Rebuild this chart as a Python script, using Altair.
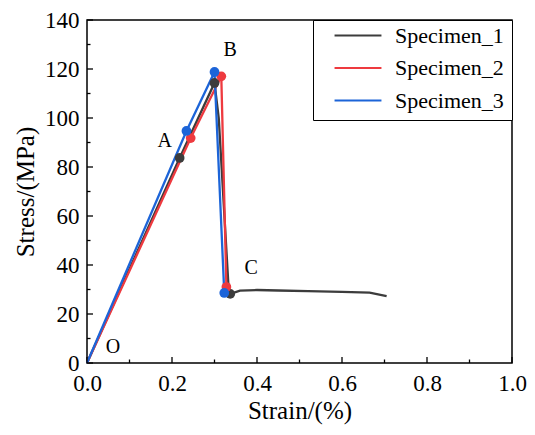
import altair as alt
import pandas as pd

series_names = ["Specimen_1", "Specimen_2", "Specimen_3"]
colors = ["#3c3c3c", "#ee3a3f", "#1c64d8"]

strain_1 = [0.0, 0.218, 0.300, 0.310, 0.333, 0.337, 0.36, 0.40, 0.45, 0.52, 0.60, 0.665, 0.705]
stress_1 = [0.0, 83.7, 114.3, 100.0, 31.0, 28.2, 29.5, 29.8, 29.6, 29.3, 29.0, 28.7, 27.3]
strain_2 = [0.0, 0.244, 0.316, 0.328]
stress_2 = [0.0, 91.8, 117.0, 31.0]
strain_3 = [0.0, 0.234, 0.300, 0.323]
stress_3 = [0.0, 94.7, 118.8, 28.6]

pts_strain_1 = [0.218, 0.300, 0.337]
pts_stress_1 = [83.7, 114.3, 28.2]
pts_strain_2 = [0.244, 0.316, 0.328]
pts_stress_2 = [91.8, 117.0, 31.0]
pts_strain_3 = [0.234, 0.300, 0.323]
pts_stress_3 = [94.7, 118.8, 28.6]

label_text = ["O", "A", "B", "C"]
label_strain = [0.061, 0.183, 0.337, 0.386]
label_stress = [6.5, 90.6, 127.8, 38.8]

x_major = [0.0, 0.2, 0.4, 0.6, 0.8, 1.0]
x_minor = [0.1, 0.3, 0.5, 0.7, 0.9]
y_major = [0, 20, 40, 60, 80, 100, 120, 140]
y_minor = [10, 30, 50, 70, 90, 110, 130]

FONT = "Liberation Serif"
W, H = 425, 343

rows = []
for name, xs, ys in zip(series_names, [strain_1, strain_2, strain_3], [stress_1, stress_2, stress_3]):
    for i, (a, b) in enumerate(zip(xs, ys)):
        rows.append({"series": name, "strain": a, "stress": b, "order": i})
lines_df = pd.DataFrame(rows)

prow = []
for name, xs, ys in zip(series_names, [pts_strain_1, pts_strain_2, pts_strain_3],
                        [pts_stress_1, pts_stress_2, pts_stress_3]):
    for a, b in zip(xs, ys):
        prow.append({"series": name, "strain": a, "stress": b})
pts_df = pd.DataFrame(prow)

labels_df = pd.DataFrame({"text": label_text, "strain": label_strain, "stress": label_stress})

xscale = alt.Scale(domain=[0, 1], nice=False)
yscale = alt.Scale(domain=[0, 140], nice=False)
cscale = alt.Scale(domain=series_names, range=colors)

x_enc = alt.X("strain:Q", scale=xscale,
              axis=alt.Axis(values=x_major, format=".1f", ticks=False, domain=False, grid=False,
                            labelFlush=False, labelPadding=9, titlePadding=3, title="Strain/(%)"))
y_enc = alt.Y("stress:Q", scale=yscale,
              axis=alt.Axis(values=y_major, format="d", ticks=False, domain=False, grid=False,
                            labelPadding=8, titlePadding=6, title="Stress/(MPa)"))

lines = alt.Chart(lines_df).mark_line(strokeWidth=2.3).encode(
    x=x_enc, y=y_enc,
    color=alt.Color("series:N", scale=cscale,
                    legend=alt.Legend(title=None, orient="top-right", offset=0,
                                      symbolType="stroke", symbolSize=2200, symbolStrokeWidth=2.2,
                                      labelFont=FONT, labelFontSize=22, labelColor="black",
                                      strokeColor="black", padding=8, symbolOffset=12,
                                      labelOffset=12, clipHeight=15, rowPadding=9.5,
                                      fillColor="white")),
    order="order:Q",
)

points = alt.Chart(pts_df).mark_circle(size=95, opacity=1).encode(
    x="strain:Q", y="stress:Q",
    color=alt.Color("series:N", scale=cscale, legend=None),
)

texts = alt.Chart(labels_df).mark_text(font=FONT, fontSize=20, color="black",
                                       align="center", baseline="middle").encode(
    x="strain:Q", y="stress:Q", text="text:N"
)

xmaj = alt.Chart(pd.DataFrame({"strain": x_major})).mark_rule(color="black", strokeWidth=1.3).encode(
    x="strain:Q", y=alt.value(H), y2=alt.value(H - 6))
xmin = alt.Chart(pd.DataFrame({"strain": x_minor})).mark_rule(color="black", strokeWidth=1.3).encode(
    x="strain:Q", y=alt.value(H), y2=alt.value(H - 3.5))
ymaj = alt.Chart(pd.DataFrame({"stress": y_major})).mark_rule(color="black", strokeWidth=1.3).encode(
    y="stress:Q", x=alt.value(0), x2=alt.value(6))
ymin = alt.Chart(pd.DataFrame({"stress": y_minor})).mark_rule(color="black", strokeWidth=1.3).encode(
    y="stress:Q", x=alt.value(0), x2=alt.value(3.5))

chart = alt.layer(lines, points, texts, xmaj, xmin, ymaj, ymin).properties(
    width=W, height=H,
    background="white",
    autosize=alt.AutoSizeParams(type="none"),
    padding={"left": 79, "top": 12, "right": 15, "bottom": 64},
).configure_view(
    stroke="black", strokeWidth=1.5
).configure_axis(
    labelFont=FONT, labelFontSize=23, labelColor="black",
    titleFont=FONT, titleFontSize=25, titleColor="black", titleFontWeight="normal",
)

chart.save("out.html", embed_options={"renderer": "svg", "actions": False})
